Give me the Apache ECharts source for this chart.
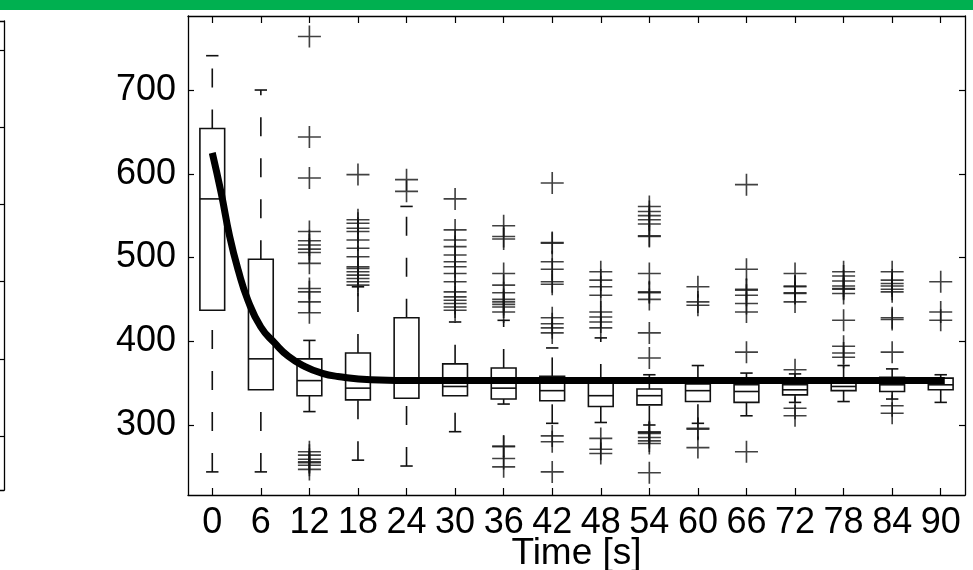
<!DOCTYPE html>
<html><head><meta charset="utf-8">
<script src="https://cdn.jsdelivr.net/npm/echarts@6/dist/echarts.min.js"></script>
<style>html,body{margin:0;padding:0;background:#fff}#c{width:973px;height:570px}</style>
</head><body><div id="c"></div>
<script>
// ---- data ----
const categories = ['0','6','12','18','24','30','36','42','48','54','60','66','72','78','84','90'];
const whiskerLow  = [244, 244, 316, 258, 251, 292, 325, 302, 303, 300, 302, 311, 327, 328, 331, 327];
const q1          = [437, 342, 335, 330, 332, 335, 331, 329, 322, 324, 328, 327, 336, 341, 340, 342];
const median      = [570, 379, 353, 344, 354, 346, 344, 341, 335, 335, 341, 340, 342, 346, 348, 348];
const q3          = [654, 498, 379, 386, 428, 373, 368, 358, 350, 343, 349, 348, 348, 350, 357, 356];
const whiskerHigh = [741, 700, 401, 465, 561, 423, 425, 392, 404, 360, 371, 362, 361, 371, 367, 360];
const outliers = [
  [],
  [],
  [764, 644, 595, 531, 520, 515, 510, 506, 493, 463, 459, 447, 434, 268, 264, 259, 256, 255, 252, 247],
  [599, 545, 541, 535, 531, 521, 511, 501, 489, 487, 483, 479, 475, 471, 467],
  [593, 579],
  [570, 533, 521, 513, 503, 495, 489, 481, 471, 459, 453, 449, 445, 441, 437],
  [538, 525, 522, 481, 467, 458, 450, 447, 444, 441, 435, 275, 274, 260, 250],
  [589, 518, 517, 495, 486, 471, 468, 428, 421, 416, 410, 287, 280, 244],
  [483, 473, 465, 455, 435, 429, 423, 416, 284, 271, 266],
  [561, 555, 550, 545, 540, 526, 525, 481, 459, 458, 450, 410, 380, 292, 291, 290, 285, 281, 278, 243],
  [465, 447, 443, 296, 295, 273],
  [587, 486, 462, 461, 455, 445, 435, 387, 268],
  [481, 466, 465, 458, 457, 447, 366, 320, 311],
  [483, 478, 472, 466, 463, 462, 457, 425, 394, 386, 381],
  [483, 473, 469, 466, 462, 459, 428, 426, 387, 323, 314],
  [471, 435, 425]
];
const curveTime  = [0, 1.1, 2.15, 3.2, 4.4, 6, 7.7, 9.4, 11.4, 13.5, 15.5, 19.6, 25.8, 42, 66, 90.5];
const curveValue = [625, 577, 525, 485, 449, 417, 398, 382, 370, 362, 358, 354, 353, 353, 353, 353];
const yTicks = [300, 400, 500, 600, 700];
const leftPanelTicks = [0, 1, 2, 3, 4, 5];

// ---- build series data ----
const boxData = categories.map((c, i) => [i, whiskerLow[i], q1[i], median[i], q3[i], whiskerHigh[i]]);
const outlierData = [];
outliers.forEach((arr, i) => arr.forEach(v => outlierData.push([i, v])));
const curveData = curveTime.map((t, i) => [t, curveValue[i]]);

const FONT = "'Liberation Sans', Arial, Helvetica, sans-serif";
const INK = '#111';

function renderBox(params, api) {
  const i = api.value(0);
  const pMin = api.coord([i, api.value(1)]);
  const pQ1 = api.coord([i, api.value(2)]);
  const pMed = api.coord([i, api.value(3)]);
  const pQ3 = api.coord([i, api.value(4)]);
  const pMax = api.coord([i, api.value(5)]);
  const band = api.size([1, 0])[0];
  const w = band * 0.51;
  const cap = w * 0.5;
  const cx = pQ1[0];
  const solid = { stroke: INK, lineWidth: 1.6, fill: null };
  const dashed = { stroke: INK, lineWidth: 1.6, lineDash: [19, 22] };
  return {
    type: 'group',
    children: [
      { type: 'line', shape: { x1: cx, y1: pQ3[1], x2: cx, y2: pMax[1] }, style: dashed },
      { type: 'line', shape: { x1: cx, y1: pMin[1], x2: cx, y2: pQ1[1] }, style: dashed },
      { type: 'line', shape: { x1: cx - cap / 2, y1: pMax[1], x2: cx + cap / 2, y2: pMax[1] }, style: solid },
      { type: 'line', shape: { x1: cx - cap / 2, y1: pMin[1], x2: cx + cap / 2, y2: pMin[1] }, style: solid },
      { type: 'rect', shape: { x: cx - w / 2, y: pQ3[1], width: w, height: pQ1[1] - pQ3[1] }, style: { stroke: INK, lineWidth: 1.6, fill: 'none' } },
      { type: 'line', shape: { x1: cx - w / 2, y1: pMed[1], x2: cx + w / 2, y2: pMed[1] }, style: solid }
    ]
  };
}

const chart = echarts.init(document.getElementById('c'), null, { renderer: 'canvas' });
const axisLineStyle = { color: '#000', width: 1.3 };
const lineOpt = { show: true, onZero: false, lineStyle: axisLineStyle };
chart.setOption({
  backgroundColor: '#fff',
  animation: false,
  graphic: [
    { type: 'rect', left: 0, top: 0, shape: { width: 973, height: 10 }, style: { fill: '#00b050' }, z: 100 }
  ],
  grid: [
    { left: 188, right: 8, top: 16, bottom: 75, outerBoundsMode: 'none', containLabel: false },
    { left: -60, width: 64, top: 21, bottom: 80, outerBoundsMode: 'none', containLabel: false }
  ],
  xAxis: [
    {
      type: 'category', gridIndex: 0, position: 'bottom', data: categories, boundaryGap: true,
      axisLine: lineOpt,
      axisTick: { show: true, inside: true, alignWithLabel: true, length: 7, lineStyle: { color: '#000', width: 1.2 } },
      axisLabel: { show: true, interval: 0, color: '#000', fontSize: 36, fontFamily: FONT, margin: 10 },
      splitLine: { show: false },
      name: 'Time [s]', nameLocation: 'middle', nameGap: 40, nameMoveOverlap: false,
      nameTextStyle: { color: '#000', fontSize: 37, fontFamily: FONT }
    },
    {
      type: 'category', gridIndex: 0, position: 'top', data: categories, boundaryGap: true,
      axisLine: lineOpt,
      axisTick: { show: true, inside: true, alignWithLabel: true, length: 7, lineStyle: { color: '#000', width: 1.2 } },
      axisLabel: { show: false }, splitLine: { show: false }
    },
    { type: 'value', gridIndex: 0, min: -3, max: 93, show: false },
    { type: 'value', gridIndex: 1, position: 'bottom', min: 0, max: 1,
      axisLine: lineOpt, axisTick: { show: false }, axisLabel: { show: false }, splitLine: { show: false } },
    { type: 'value', gridIndex: 1, position: 'top', min: 0, max: 1,
      axisLine: lineOpt, axisTick: { show: false }, axisLabel: { show: false }, splitLine: { show: false } }
  ],
  yAxis: [
    {
      type: 'value', gridIndex: 0, position: 'left', min: 216.4, max: 788.4,
      axisLine: lineOpt,
      axisTick: { show: true, inside: true, length: 6, customValues: yTicks, lineStyle: { color: '#000', width: 1.2 } },
      axisLabel: { show: true, customValues: yTicks, color: '#000', fontSize: 36, fontFamily: FONT, margin: 12 },
      splitLine: { show: false }
    },
    {
      type: 'value', gridIndex: 0, position: 'right', min: 216.4, max: 788.4,
      axisLine: lineOpt,
      axisTick: { show: true, inside: true, length: 6, customValues: yTicks, lineStyle: { color: '#000', width: 1.2 } },
      axisLabel: { show: false, customValues: yTicks },
      splitLine: { show: false }
    },
    {
      type: 'value', gridIndex: 1, position: 'right', min: -0.7, max: 5.375,
      axisLine: lineOpt,
      axisTick: { show: true, inside: true, length: 4, customValues: leftPanelTicks, lineStyle: { color: '#000', width: 1.2 } },
      axisLabel: { show: false, customValues: leftPanelTicks },
      splitLine: { show: false }
    }
  ],
  series: [
    {
      type: 'custom', name: 'box', xAxisIndex: 0, yAxisIndex: 0,
      renderItem: renderBox, data: boxData,
      encode: { x: 0, y: [1, 2, 3, 4, 5] }, z: 2, clip: false
    },
    {
      type: 'scatter', name: 'outliers', xAxisIndex: 0, yAxisIndex: 0, data: outlierData,
      symbol: 'path://M12,0 L12,22 M0,11 L24,11', symbolSize: [23, 22],
      itemStyle: { color: 'none', borderColor: INK, borderWidth: 1.6 }, z: 3
    },
    {
      type: 'line', name: 'fit', xAxisIndex: 2, yAxisIndex: 0, data: curveData,
      smooth: 0.5, showSymbol: false, symbol: 'none',
      lineStyle: { color: '#000', width: 7, join: 'round' }, z: 5
    }
  ]
});
</script>
</body></html>
